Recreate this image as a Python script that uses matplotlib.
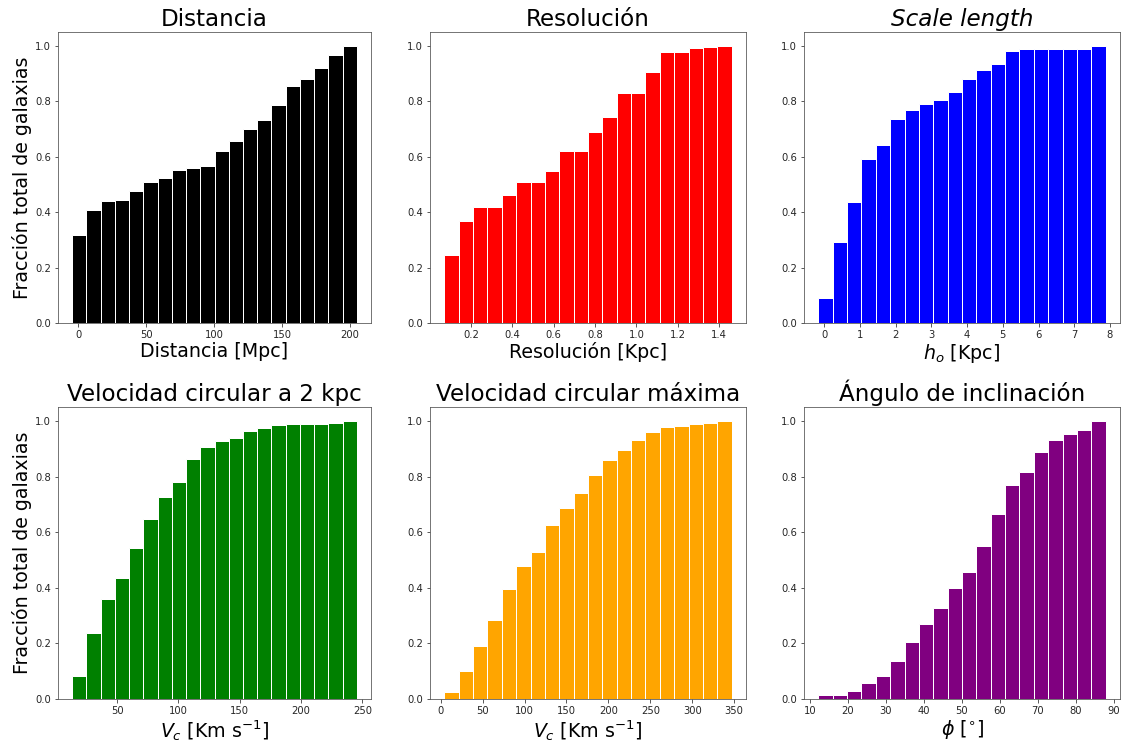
import numpy as np
import matplotlib
matplotlib.use('Agg')
import matplotlib.pyplot as plt

# Fracción acumulada de galaxias por panel (20 bins cada uno)
dist_range = (-4.4, 204.9)
dist_frac = [0.318, 0.406, 0.440, 0.445, 0.477, 0.508, 0.523, 0.553, 0.561, 0.565,
             0.621, 0.656, 0.701, 0.732, 0.787, 0.856, 0.880, 0.921, 0.966, 1.0]

res_range = (0.072, 1.46)
res_frac = [0.246, 0.368, 0.417, 0.417, 0.463, 0.508, 0.508, 0.549, 0.621, 0.621,
            0.689, 0.743, 0.831, 0.831, 0.905, 0.977, 0.977, 0.992, 0.995, 1.0]

h_range = (-0.17, 7.88)
h_frac = [0.091, 0.293, 0.436, 0.591, 0.644, 0.736, 0.769, 0.792, 0.803, 0.834,
          0.879, 0.912, 0.935, 0.981, 0.988, 0.988, 0.988, 0.988, 0.988, 1.0]

vc2_range = (13.4, 245.4)
vc2_frac = [0.081, 0.239, 0.360, 0.436, 0.542, 0.649, 0.728, 0.781, 0.864, 0.906,
            0.929, 0.940, 0.963, 0.974, 0.986, 0.989, 0.989, 0.989, 0.993, 1.0]

vmax_range = (4.4, 347.0)
vmax_frac = [0.024, 0.099, 0.190, 0.285, 0.396, 0.479, 0.527, 0.626, 0.687, 0.742,
             0.804, 0.860, 0.894, 0.933, 0.959, 0.977, 0.982, 0.989, 0.993, 1.0]

phi_range = (12.2, 87.8)
phi_frac = [0.013, 0.013, 0.028, 0.059, 0.084, 0.137, 0.206, 0.270, 0.326, 0.398,
            0.458, 0.550, 0.664, 0.769, 0.816, 0.888, 0.933, 0.952, 0.966, 1.0]

titles = ['Distancia', 'Resolución', 'Scale length',
          'Velocidad circular a 2 kpc', 'Velocidad circular máxima', 'Ángulo de inclinación']
xlabels = ['Distancia [Mpc]', 'Resolución [Kpc]', r'$h_o$ [Kpc]',
           r'$V_c$ [Km s$^{-1}$]', r'$V_c$ [Km s$^{-1}$]', r'$\phi$ [$^{\circ}$]']
colors = ['black', 'red', 'blue', 'green', 'orange', 'purple']
ranges = [dist_range, res_range, h_range, vc2_range, vmax_range, phi_range]
fracs = [dist_frac, res_frac, h_frac, vc2_frac, vmax_frac, phi_frac]

W, H = 1122, 747
fig = plt.figure(figsize=(W / 72, H / 72), dpi=72)

# posiciones de los ejes en pixeles (izq, arriba, der, abajo)
lefts = [58, 430, 804]
rights = [371, 746, 1120]
tops = [32, 407]
bottoms = [323, 699]

for i in range(6):
    r, c = divmod(i, 3)
    x0, x1 = lefts[c], rights[c]
    y0, y1 = tops[r], bottoms[r]
    ax = fig.add_axes([x0 / W, 1 - y1 / H, (x1 - x0) / W, (y1 - y0) / H])
    edges = np.linspace(ranges[i][0], ranges[i][1], len(fracs[i]) + 1)
    ax.bar(edges[:-1], fracs[i], width=np.diff(edges), align='edge',
           color=colors[i], edgecolor='white', linewidth=1)
    if i == 2:
        ax.set_title(titles[i], fontsize=23, style='italic')
    else:
        ax.set_title(titles[i], fontsize=23)
    ax.set_xlabel(xlabels[i], fontsize=19, labelpad=2)
    if c == 0:
        ax.set_ylabel('Fracción total de galaxias', fontsize=19, labelpad=3)
    ax.tick_params(labelsize=10, colors='#333333', labelcolor='#262626')
    for s in ax.spines.values():
        s.set_edgecolor('#555555')

fig.savefig('out.png', dpi=72)
